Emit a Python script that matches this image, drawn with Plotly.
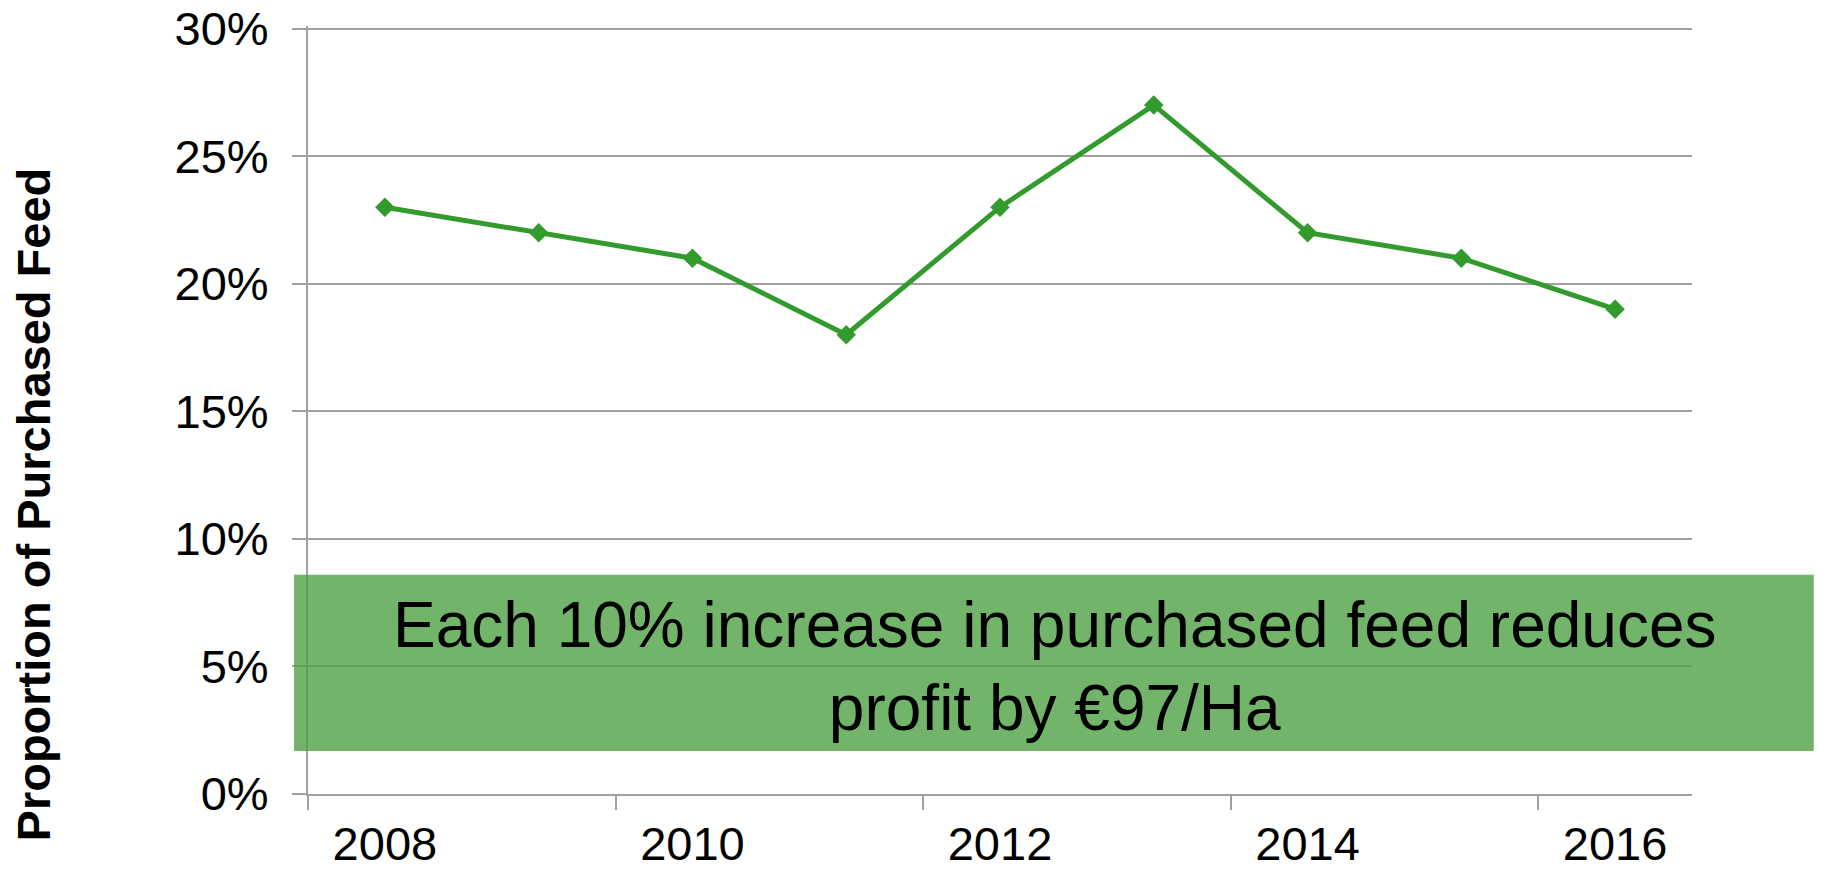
import plotly.graph_objects as go

# values
years = [2008, 2009, 2010, 2011, 2012, 2013, 2014, 2015, 2016]
purchased_feed_pct = [23, 22, 21, 18, 23, 27, 22, 21, 19]
label_years = [2008, 2010, 2012, 2014, 2016]
y_ticks = [0, 5, 10, 15, 20, 25, 30]
box_text = "Each 10% increase in purchased feed reduces<br>profit by €97/Ha"
y_title = "Proportion of Purchased Feed"

FONT = "Liberation Sans, Arial, sans-serif"
GRID = "#a0a0a0"
GREEN = "#339a2e"

fig = go.Figure()

fig.add_trace(go.Scatter(
    x=years,
    y=purchased_feed_pct,
    mode='lines+markers',
    line=dict(color=GREEN, width=5),
    marker=dict(symbol='diamond', size=15, color=GREEN),
    showlegend=False,
    hovertemplate="%{x}: %{y}%<extra></extra>"
))

# boundaries between categories, every second one gets a tick (Excel style)
boundary_ticks = [y - 0.5 for y in label_years]

# page body adds an 8px margin, so the figure is 8px smaller on each axis
# y range goes a hair past 30 so plotly keeps the top gridline
fig.update_layout(
    width=1815,
    height=862,
    margin=dict(l=300, r=131, t=18, b=76),
    plot_bgcolor='white',
    paper_bgcolor='white',
    font=dict(family=FONT, color='black'),
    xaxis=dict(
        range=[years[0] - 0.5, years[-1] + 0.5],
        tickmode='array',
        tickvals=label_years,
        ticktext=[str(y) for y in label_years],
        ticks='',
        showgrid=False,
        zeroline=False,
        showline=True,
        linecolor=GRID,
        linewidth=2,
        automargin=False,
        ticklabeloverflow='allow',
        tickfont=dict(size=47, family=FONT, color='black'),
        ticklabelstandoff=8,
        minor=dict(
            tickmode='array',
            tickvals=boundary_ticks,
            ticks='outside',
            ticklen=14,
            tickwidth=2,
            tickcolor=GRID,
            showgrid=False,
        ),
    ),
    yaxis=dict(
        range=[0, 30.1],
        tickmode='array',
        tickvals=y_ticks,
        ticktext=[f"{v}%" for v in y_ticks],
        ticks='outside',
        ticklen=14,
        tickwidth=2,
        tickcolor=GRID,
        showgrid=True,
        gridcolor=GRID,
        gridwidth=2,
        zeroline=False,
        showline=True,
        linecolor=GRID,
        linewidth=2,
        automargin=False,
        ticklabeloverflow='allow',
        tickfont=dict(size=47, family=FONT, color='black'),
        ticklabelstandoff=14,
    ),
)

# green call-out box, drawn over the grid
fig.add_shape(
    type='rect',
    xref='paper', yref='y',
    x0=-0.0101, x1=1.088,
    y0=1.69, y1=8.59,
    fillcolor='rgba(79,162,69,0.8)',
    line=dict(width=0),
    layer='above',
)

fig.add_annotation(
    xref='paper', yref='y',
    x=0.5397, y=5.0,
    text=box_text,
    showarrow=False,
    xanchor='center', yanchor='middle',
    align='center',
    font=dict(size=64, family=FONT, color='black'),
)

fig.add_annotation(
    xref='paper', yref='paper',
    x=-0.1987, y=0.377,
    text="<b>" + y_title + "</b>",
    showarrow=False,
    textangle=-90,
    xanchor='center', yanchor='middle',
    font=dict(size=47, family=FONT, color='black'),
)

fig.write_html("out.html")
